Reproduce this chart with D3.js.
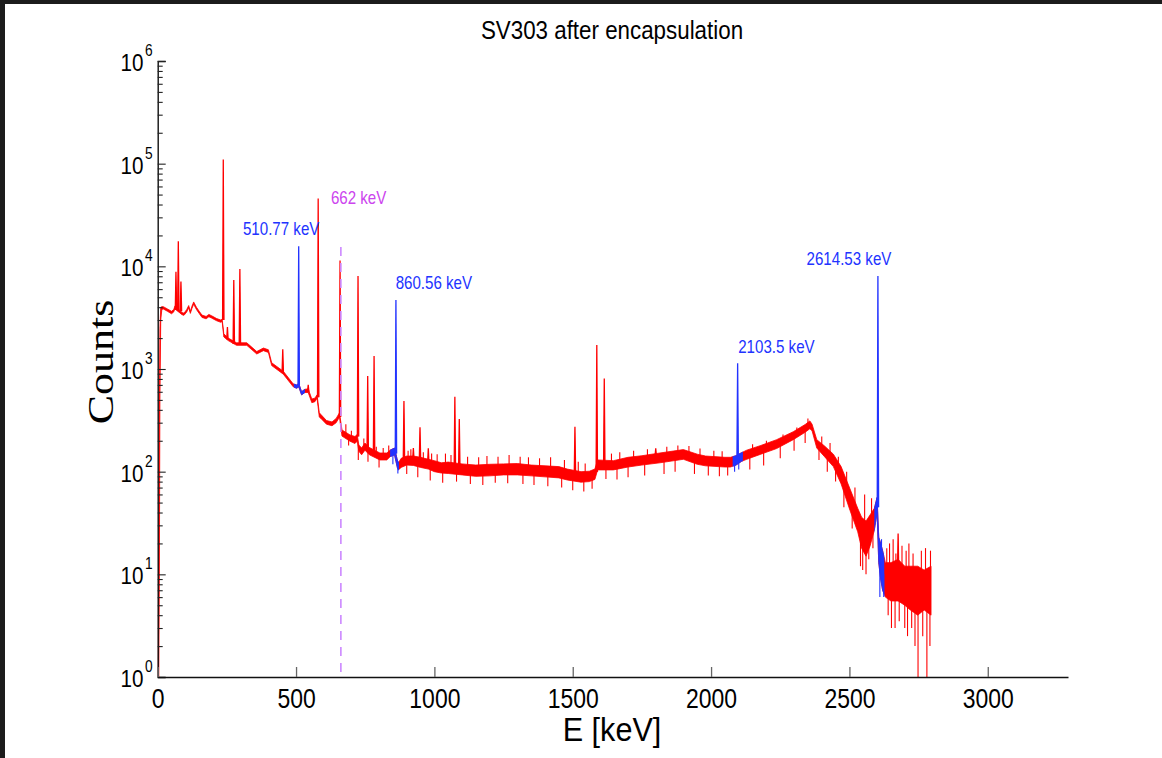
<!DOCTYPE html>
<html>
<head>
<meta charset="utf-8">
<script src="https://cdn.jsdelivr.net/npm/d3@7"></script>
<style>
  html, body { margin: 0; padding: 0; background: #1c1c1c; }
  svg { display: block; }
</style>
</head>
<body>
<svg id="chart" width="1162" height="758"></svg>
<script>
/* DATA */

const xTicks = [0, 500, 1000, 1500, 2000, 2500, 3000];
const yExps = [0, 1, 2, 3, 4, 5, 6];

// continuum, as [energy keV, lower counts, upper counts] of the noisy trace
const band = [
  [0, 1, 1], [2, 1, 4], [4, 1, 15], [6, 10, 300], [8, 500, 2500], [11, 3000, 4000],
  [15, 3800, 4050], [20, 3850, 4050], [35, 3650, 3850], [50, 3450, 3650], [58, 3600, 3800],
  [62, 3850, 4100], [88, 3380, 3550], [95, 3330, 3500], [105, 3600, 3800], [112, 3950, 4150],
  [118, 3480, 3650], [124, 3900, 4100], [130, 4280, 4500], [140, 3800, 4000], [150, 3470, 3650],
  [160, 3180, 3350], [175, 3080, 3250], [185, 3230, 3400], [195, 3130, 3300], [213, 2950, 3100],
  [228, 2850, 3000], [233, 2900, 3050], [239, 2050, 2200], [255, 1890, 2000], [285, 1700, 1800],
  [322, 1700, 1800], [358, 1400, 1480], [382, 1510, 1600], [400, 1450, 1540], [412, 1080, 1150],
  [454, 890, 950], [490, 670, 715], [502, 650, 700], [510, 670, 720], [520, 560, 600],
  [532, 590, 635], [544, 590, 640], [557, 470, 510], [568, 480, 520], [576, 520, 560],
  [584, 340, 375], [590, 330, 360], [610, 290, 315], [630, 280, 305], [645, 300, 330],
  [657, 340, 375], [666, 222, 255], [695, 198, 228], [713, 188, 220], [721, 198, 230],
  [727, 158, 182], [737, 146, 170], [749, 162, 190], [765, 146, 172], [803, 130, 152],
  [828, 130, 152], [840, 140, 162], [856, 146, 170], [866, 110, 130], [870, 104, 122],
  [880, 110, 135], [900, 116, 142], [924, 115, 142], [950, 110, 138], [978, 106, 132],
  [1000, 100, 128], [1025, 97, 122], [1050, 96, 124], [1100, 93, 119], [1150, 90, 116],
  [1200, 91, 118], [1250, 93, 119], [1300, 93, 120], [1350, 91, 116], [1400, 89, 114],
  [1450, 87, 112], [1480, 83, 106], [1530, 79, 100], [1560, 80, 101], [1580, 84, 106],
  [1590, 104, 130], [1647, 104, 128], [1700, 111, 138], [1750, 116, 143], [1815, 122, 152],
  [1900, 132, 164], [1950, 118, 148], [1980, 114, 142], [2050, 111, 138], [2070, 111, 138],
  [2090, 116, 143], [2110, 126, 153], [2129, 132, 162], [2180, 148, 180], [2237, 168, 205],
  [2297, 205, 245], [2340, 242, 288], [2357, 262, 312], [2365, 250, 290], [2382, 170, 205],
  [2410, 140, 178], [2442, 112, 148], [2470, 76, 112], [2502, 42, 68], [2530, 26, 44],
  [2544, 18, 36], [2560, 15, 33], [2575, 19, 38], [2590, 27, 44], [2600, 40, 56],
  [2606, 13, 23], [2613, 9, 20], [2620, 7, 17], [2630, 6, 13], [2650, 5.5, 13],
  [2676, 5.5, 14], [2700, 5, 12], [2720, 4.5, 12], [2747, 4, 12], [2770, 4.5, 11], [2795, 4, 12]
];

// noise spikes sticking out of the trace, [energy keV, counts]
const noise = [
  [680, 290], [690, 180], [700, 250], [725, 130], [745, 210], [760, 125], [790, 175], [800, 110],
  [815, 170], [835, 180], [850, 118], [868, 96], [900, 95], [905, 160], [915, 165], [940, 88],
  [960, 155], [985, 82], [990, 150], [1010, 148], [1030, 78], [1040, 150], [1060, 145], [1080, 80],
  [1120, 140], [1130, 76], [1160, 138], [1175, 74], [1190, 142], [1220, 78], [1230, 140],
  [1265, 77], [1270, 145], [1310, 140], [1320, 76], [1340, 138], [1360, 74], [1380, 135],
  [1410, 72], [1420, 138], [1460, 70], [1470, 130], [1500, 66], [1520, 125], [1540, 64],
  [1545, 120], [1570, 68], [1620, 85], [1640, 150], [1660, 84], [1670, 155], [1700, 88],
  [1720, 160], [1760, 92], [1770, 165], [1830, 95], [1840, 175], [1870, 100], [1880, 180],
  [1920, 178], [1940, 95], [1960, 168], [1990, 92], [2010, 160], [2030, 90], [2040, 158],
  [2060, 92], [2085, 100], [2100, 105], [2140, 105], [2150, 185], [2190, 115], [2200, 200],
  [2250, 135], [2260, 230], [2300, 160], [2310, 270], [2340, 190], [2350, 330], [2390, 130],
  [2400, 220], [2420, 100], [2430, 190], [2450, 80], [2460, 140], [2480, 45], [2490, 100],
  [2510, 28], [2520, 70], [2540, 12], [2548, 11], [2555, 60], [2560, 10], [2570, 14], [2580, 55],
  [2585, 18], [2610, 6], [2616, 22], [2624, 6], [2635, 18], [2640, 4], [2645, 20], [2652, 3],
  [2658, 22], [2665, 3], [2668, 16], [2680, 3.5], [2690, 19], [2700, 3], [2705, 17], [2710, 2.5],
  [2715, 20], [2725, 3], [2730, 16], [2737, 2], [2748, 1], [2760, 17], [2765, 2.5],
  [2775, 18], [2780, 1], [2791, 2], [2793, 17]
];

// narrow lines, as [energy keV, base counts, top counts]
const peaks = [
  [66, 3750, 8850], [74.5, 3750, 17500], [84, 3650, 7100], [237, 3000, 110000],
  [252, 1950, 2560], [275, 1750, 7340], [297, 1750, 9400], [452, 920, 1560],
  [509.6, 700, 15700], [544, 600, 700], [580, 530, 45800], [659, 340, 11400],
  [724, 220, 8030], [759, 160, 853], [782, 160, 1336], [861, 150, 4690],
  [890, 130, 487], [924, 130, 170], [948, 130, 270], [978, 120, 169],
  [1074, 110, 536], [1090, 110, 325], [1508, 95, 274], [1587, 100, 1710],
  [1614, 115, 809], [1800, 140, 169], [2096, 140, 1135], [2603, 45, 8030],
  [2676, 10, 25]
];

// energy windows of the fitted peaks (drawn blue)
const fitWindows = [[492, 532], [840, 872], [2078, 2115], [2590, 2626]];

// peak labels: text and where it was placed, in data coords
const labelText = ["510.77 keV", "662 keV", "860.56 keV", "2103.5 keV", "2614.53 keV"];
const labelAt = [[308, 20100], [626, 40300], [860, 6000], [2098, 1438], [2345, 10280]];

const csLine = 662;      // Cs-137 marker
const csTop = 15400;

/* SETUP */
const svg = d3.select("#chart");
const red = "#ff0000", blue = "#2233ff", lilac = "#cc88ff", magenta = "#cc44ee";

svg.append("rect")
  .attr("x", 5).attr("y", 4)
  .attr("width", 1157).attr("height", 754)
  .attr("fill", "#fff");

const x = d3.scaleLinear().domain([0, 3290]).range([157.7, 1068]);
const y = d3.scaleLog().domain([1, 1e6]).range([677, 61]);

const defs = svg.append("defs");
defs.append("clipPath").attr("id", "plot")
  .append("rect")
  .attr("x", x(0)).attr("y", 30)
  .attr("width", x(3290) - x(0)).attr("height", y(1) - 30);

const fitClip = defs.append("clipPath").attr("id", "fits");
fitClip.selectAll("rect")
  .data(fitWindows)
  .enter().append("rect")
  .attr("x", d => x(d[0]))
  .attr("width", d => x(d[1]) - x(d[0]))
  .attr("y", 30)
  .attr("height", y(1) - 30);

const inFit = e => fitWindows.some(w => e >= w[0] && e <= w[1]);
const colourAt = e => inFit(e) ? blue : red;

// middle of the trace at energy e (for hanging the noise spikes on)
const bisect = d3.bisector(d => d[0]).left;
function traceMid(e) {
  const i = Math.max(1, Math.min(band.length - 1, bisect(band, e)));
  const a = band[i - 1], b = band[i];
  const t = (e - a[0]) / (b[0] - a[0]);
  const ma = Math.sqrt(a[1] * a[2]), mb = Math.sqrt(b[1] * b[2]);
  return ma + (mb - ma) * t;
}

// helper for the narrow-looking lettering of the original
function label(g, px, py, str, size, sx, anchor, family) {
  return g.append("text")
    .attr("transform", `translate(${px},${py}) scale(${sx},1)`)
    .attr("text-anchor", anchor)
    .style("font-family", family)
    .style("font-size", size + "px")
    .text(str);
}

/* SPECTRUM */
const plot = svg.append("g").attr("clip-path", "url(#plot)");

const area = d3.area()
  .x(d => x(d[0]))
  .y0(d => y(d[1]))
  .y1(d => y(d[2]));

plot.append("path")
  .datum(band)
  .attr("d", area)
  .attr("fill", red)
  .attr("stroke", red)
  .attr("stroke-width", 0.8);

// same continuum, blue inside the fitted windows
plot.append("g").attr("clip-path", "url(#fits)")
  .append("path")
  .datum(band)
  .attr("d", area)
  .attr("fill", blue)
  .attr("stroke", blue)
  .attr("stroke-width", 0.8);

plot.selectAll(".noise")
  .data(noise)
  .enter().append("line")
  .attr("class", "noise")
  .attr("x1", d => x(d[0])).attr("x2", d => x(d[0]))
  .attr("y1", d => y(traceMid(d[0]))).attr("y2", d => y(d[1]))
  .attr("stroke", d => colourAt(d[0]))
  .attr("stroke-width", 1.1);

const peakLine = d3.line().x(d => x(d[0])).y(d => y(d[1]));

plot.selectAll(".peak")
  .data(peaks)
  .enter().append("path")
  .attr("class", "peak")
  .attr("d", d => peakLine([[d[0] - 2.5, d[1]], [d[0], d[2]], [d[0] + 2.5, d[1]]]))
  .attr("fill", d => colourAt(d[0]))
  .attr("stroke", d => colourAt(d[0]))
  .attr("stroke-width", 1.3);

// 662 keV marker
svg.append("line")
  .attr("x1", x(csLine)).attr("x2", x(csLine))
  .attr("y1", y(csTop)).attr("y2", y(1))
  .attr("stroke", lilac)
  .attr("stroke-width", 1.6)
  .attr("stroke-dasharray", "9,7");

/* AXES */
const minor = [];
yExps.slice(0, -1).forEach(p => {
  for (let m = 2; m <= 9; m++) minor.push(m * Math.pow(10, p));
});
const major = yExps.map(p => Math.pow(10, p));

const yAxis = svg.append("g")
  .attr("transform", `translate(${x(0)},0)`)
  .call(d3.axisLeft(y).tickValues(major.concat(minor)).tickSize(-8).tickFormat(""));
yAxis.select(".domain").attr("stroke", "#111").attr("stroke-width", 1.4);
yAxis.selectAll(".tick line")
  .attr("stroke", "#222")
  .attr("stroke-width", 1.1)
  .attr("x2", d => major.includes(d) ? 8 : 5);

const xAxis = svg.append("g")
  .attr("transform", `translate(0,${y(1)})`)
  .call(d3.axisBottom(x).tickValues(xTicks).tickFormat(d3.format("d"))
    .tickSize(-10).tickSizeOuter(0));
xAxis.select(".domain").attr("stroke", "#111").attr("stroke-width", 1.4);
xAxis.selectAll(".tick line").attr("stroke", "#666").attr("stroke-width", 1.3);
xAxis.selectAll(".tick text")
  .attr("y", 31).attr("dy", null)
  .attr("transform", "scale(0.82,1)")
  .attr("fill", "#000")
  .style("font-family", "'Liberation Sans', Arial, sans-serif")
  .style("font-size", "28px");

// y tick labels, 10 with a raised exponent
const sans = "'Liberation Sans', Arial, sans-serif";
const yLab = svg.append("g");
yExps.forEach(p => {
  label(yLab, 143.5, y(Math.pow(10, p)) + 10, "10", 24, 0.86, "end", sans);
  label(yLab, 145, y(Math.pow(10, p)) - 5, String(p), 16, 0.86, "start", sans);
});

/* TEXT */
const txt = svg.append("g");
label(txt, 612, 39, "SV303 after encapsulation", 26, 0.86, "middle", sans);
label(txt, 612, 741, "E [keV]", 34, 0.9, "middle", sans);

txt.append("text")
  .attr("transform", "translate(113,362) scale(0.82,1) rotate(-90)")
  .attr("text-anchor", "middle")
  .style("font-family", "'Liberation Serif', 'Times New Roman', serif")
  .style("font-size", "44px")
  .text("Counts");

labelText.forEach((t, i) => {
  label(txt, x(labelAt[i][0]), y(labelAt[i][1]), t, 18, 0.84, "start", sans)
    .attr("fill", i === 1 ? magenta : blue);
});
</script>
</body>
</html>
